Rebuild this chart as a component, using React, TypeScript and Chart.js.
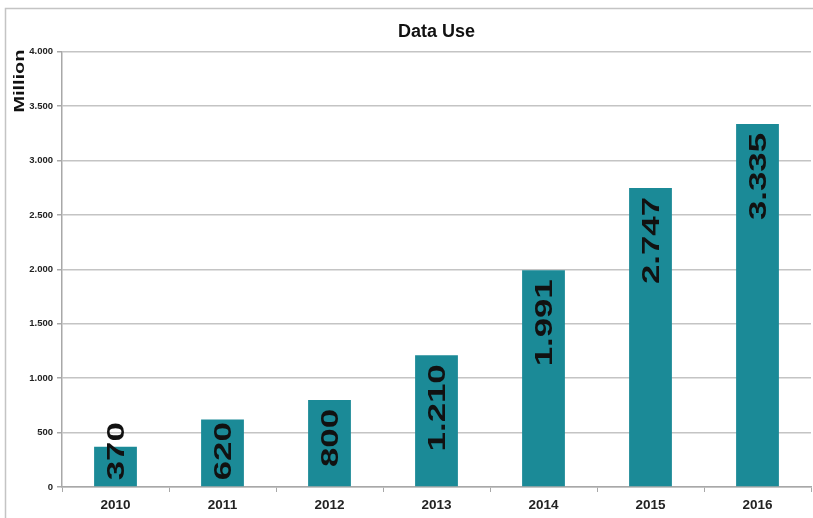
import React, { useEffect, useRef } from 'react';
import { Chart, registerables } from 'chart.js';

Chart.register(...registerables);

const categories = ['2010', '2011', '2012', '2013', '2014', '2015', '2016'];
const dataUse = [370, 620, 800, 1210, 1991, 2747, 3335];
const yMin = 0;
const yMax = 4000;
const yStep = 500;
const chartTitle = 'Data Use';
const yAxisTitle = 'Million';

const barColor = '#1b8a97';
const family = "'Liberation Sans', Arial, Helvetica, sans-serif";

const fmt = (v: number) => String(Math.round(v)).replace(/\B(?=(\d{3})+(?!\d))/g, '.');

// draws text rotated -90deg, stretched along its length (like the reference)
function drawStretchedVertical(ctx: any, text: string, cx: number, startY: number, size: number, sx: number) {
  ctx.save();
  ctx.translate(cx, startY);
  ctx.rotate(-Math.PI / 2);
  ctx.scale(sx, 1);
  ctx.fillText(text, 0, (size * 0.716) / 2);
  ctx.restore();
}

const framePlugin = {
  id: 'frame',
  beforeDraw(chart: any) {
    const ctx = chart.ctx;
    ctx.save();
    ctx.fillStyle = '#ffffff';
    ctx.fillRect(0, 0, chart.width, chart.height);
    ctx.strokeStyle = '#c4c4c4';
    ctx.lineWidth = 1.5;
    ctx.beginPath();
    ctx.moveTo(5.5, chart.height);
    ctx.lineTo(5.5, 8.5);
    ctx.lineTo(chart.width, 8.5);
    ctx.stroke();
    ctx.restore();
  },
  afterDraw(chart: any) {
    const ctx = chart.ctx;
    const size = 14;
    const sx = 1.42;
    ctx.save();
    ctx.font = `bold ${size}px ${family}`;
    ctx.fillStyle = '#111111';
    ctx.textAlign = 'left';
    ctx.textBaseline = 'alphabetic';
    const len = ctx.measureText(yAxisTitle).width * sx;
    drawStretchedVertical(ctx, yAxisTitle, 19, chart.chartArea.top - 2 + len, size, sx);
    ctx.restore();
  },
};

const barLabelPlugin = {
  id: 'barLabels',
  afterDatasetsDraw(chart: any) {
    const meta = chart.getDatasetMeta(0);
    const ctx = chart.ctx;
    const size = 24;
    const sx = 1.45;
    ctx.save();
    ctx.font = `bold ${size}px ${family}`;
    ctx.fillStyle = '#111111';
    ctx.textBaseline = 'alphabetic';
    ctx.textAlign = 'left';
    meta.data.forEach((bar: any, i: number) => {
      const { x, y, base } = bar.getProps(['x', 'y', 'base'], true);
      const text = fmt(dataUse[i]);
      const len = ctx.measureText(text).width * sx;
      let start = y + 9 + len;
      if (start > base - 6) start = base - 6;
      drawStretchedVertical(ctx, text, x, start, size, sx);
    });
    ctx.restore();
  },
};

export default function App() {
  const canvasRef = useRef<HTMLCanvasElement | null>(null);

  useEffect(() => {
    const canvas = canvasRef.current;
    if (!canvas) return;
    const chart = new Chart(canvas, {
      type: 'bar',
      data: {
        labels: categories,
        datasets: [
          {
            label: chartTitle,
            data: dataUse,
            backgroundColor: barColor,
            borderWidth: 0,
            barPercentage: 0.4,
            categoryPercentage: 1,
          },
        ],
      },
      options: {
        responsive: false,
        animation: false,
        layout: { padding: { left: 0, right: 2, top: 0, bottom: 0 } },
        plugins: {
          legend: { display: false },
          tooltip: { enabled: false },
          title: {
            display: true,
            text: chartTitle,
            fullSize: false,
            color: '#111111',
            font: { family, size: 18, weight: 'bold' },
            padding: { top: 21, bottom: 9 },
          },
        },
        scales: {
          x: {
            grid: { drawOnChartArea: false, tickLength: 5, color: '#a8a8a8', offset: true },
            border: { color: '#a8a8a8', width: 1.5 },
            ticks: {
              font: { family, size: 13.5, weight: 'bold' },
              color: '#222222',
              padding: 5,
            },
            afterFit: (s: any) => {
              s.height = 31;
            },
          },
          y: {
            min: yMin,
            max: yMax,
            ticks: {
              stepSize: yStep,
              callback: (v: any) => fmt(Number(v)),
              font: { family, size: 9.5, weight: 'bold' },
              color: '#222222',
              padding: 4,
            },
            grid: { color: '#c4c4c4', lineWidth: 1.5, tickLength: 5, tickColor: '#a8a8a8' },
            border: { color: '#a8a8a8', width: 1.5 },
            afterFit: (s: any) => {
              s.width = 62;
            },
          },
        },
      },
      plugins: [framePlugin, barLabelPlugin],
    } as any);
    return () => chart.destroy();
  }, []);

  return (
    <div style={{ position: 'absolute', left: 0, top: 0, width: 813, height: 518 }}>
      <canvas ref={canvasRef} width={813} height={518} style={{ display: 'block' }} />
    </div>
  );
}
